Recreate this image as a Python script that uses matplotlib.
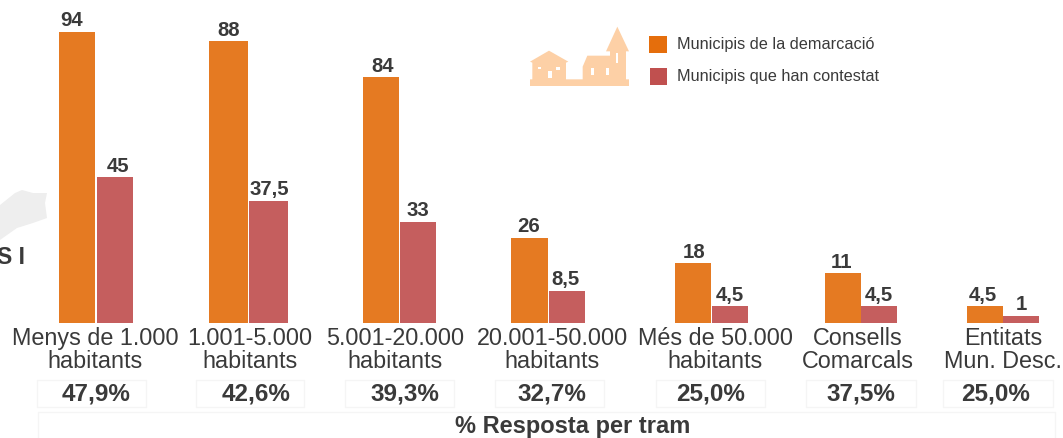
import matplotlib
matplotlib.use("Agg")
import matplotlib.pyplot as plt
from matplotlib.patches import Polygon, Rectangle

plt.rcParams['font.family'] = ['Liberation Sans', 'DejaVu Sans']

categories = ["Menys de 1.000\nhabitants", "1.001-5.000\nhabitants", "5.001-20.000\nhabitants",
              "20.001-50.000\nhabitants", "Més de 50.000\nhabitants", "Consells\nComarcals", "Entitats\nMun. Desc."]
# Labels printed in the source, and the (non proportional) bar heights as drawn
demarcacio_labels = ["94", "88", "84", "26", "18", "11", "4,5"]
contestat_labels = ["45", "37,5", "33", "8,5", "4,5", "4,5", "1"]
demarcacio_heights = [291, 282, 246, 85, 60, 50, 17]
contestat_heights = [146, 122, 101, 32, 17, 17, 7]
percentages = ["47,9%", "42,6%", "39,3%", "32,7%", "25,0%", "37,5%", "25,0%"]
legend_labels = ["Municipis de la demarcació", "Municipis que han contestat"]
footer_title = "% Resposta per tram"

ORANGE, RED, DARK = "#e57a22", "#c55e5e", "#3a3a3a"
PEACH, BORDER = "#fdd0a6", "#f5f5f5"
BASE = 323

orange_span = [(59, 95), (209, 248), (363, 399), (511, 548), (675, 711), (825, 861), (967, 1003)]
red_span = [(97, 133), (249, 288), (400, 436), (549, 585), (712, 748), (861, 897), (1003, 1039)]
orange_lx = [72, 229, 383, 529, 694, 842, 983]
red_lx = [118, 269, 418, 566, 730, 879, 1021]
cat_x = [95, 250, 395, 552, 715, 858, 1003]
boxes = [(37, 146), (196, 304), (345, 454), (495, 604), (656, 765), (806, 916), (943, 1053)]
pct_x = [96, 256, 405, 552, 711, 861, 996]

fig = plt.figure(figsize=(10.63, 4.38), dpi=100)
ax = fig.add_axes([0, 0, 1, 1])
ax.set_xlim(0, 1063)
ax.set_ylim(BASE - 438, BASE)
ax.axis("off")

def py(y):
    return BASE - y

# Background map fragment and clipped text
ax.add_patch(Polygon([(0, py(205)), (15, py(193)), (22, py(190)), (33, py(193)), (47, py(193)), (45, py(203)),
                      (47, py(218)), (33, py(223)), (17, py(228)), (0, py(240))], color="#eeeeee", lw=0))
ax.text(25, py(258), "S I", ha="right", va="center", fontsize=16.5, fontweight="bold", color=DARK)

for i in range(len(categories)):
    a, b = orange_span[i]
    ax.bar((a + b) / 2, demarcacio_heights[i], width=b - a, color=ORANGE, lw=0)
    ax.text(orange_lx[i], demarcacio_heights[i] + 11, demarcacio_labels[i], ha="center", va="center",
            fontsize=14.7, fontweight="bold", color=DARK)
    a, b = red_span[i]
    ax.bar((a + b) / 2, contestat_heights[i], width=b - a, color=RED, lw=0)
    ax.text(red_lx[i], contestat_heights[i] + 11, contestat_labels[i], ha="center", va="center",
            fontsize=14.7, fontweight="bold", color=DARK)
    ax.text(cat_x[i], py(350), categories[i], ha="center", va="center", fontsize=16.8, color=DARK,
            linespacing=1.0)
    a, b = boxes[i]
    ax.add_patch(Rectangle((a, py(407)), b - a, 27, fc="white", ec=BORDER, lw=1))
    ax.text(pct_x[i], py(394), percentages[i], ha="center", va="center", fontsize=17.5,
            fontweight="bold", color=DARK)

ax.add_patch(Rectangle((38, py(445)), 1017, 33, fc="white", ec=BORDER, lw=1))
ax.text(573, py(426), footer_title, ha="center", va="center", fontsize=17, fontweight="bold", color=DARK)

# Legend
ax.add_patch(Rectangle((649, py(53)), 18, 17, fc="#e56e0c", lw=0))
ax.add_patch(Rectangle((650, py(85)), 17, 17, fc="#c0504f", lw=0))
ax.text(677, py(44), legend_labels[0], ha="left", va="center", fontsize=11.7, color=DARK)
ax.text(677, py(77), legend_labels[1], ha="left", va="center", fontsize=11.7, color=DARK)

# Village icon
def zp(pts):
    return [(500 + x / 3, py(10 + y / 3)) for x, y in pts]

ax.add_patch(Polygon(zp([(90, 228), (90, 208), (97, 208), (97, 158), (90, 155), (147, 122), (205, 155), (198, 158),
                         (198, 208), (248, 208), (248, 170), (262, 137), (330, 137), (330, 124), (318, 124),
                         (352, 50), (387, 124), (378, 124), (378, 208), (387, 208), (387, 228)]),
                     color=PEACH, lw=0))
for (x0, y0, x1, y1) in [(114, 170, 124, 177), (168, 170, 180, 180), (145, 184, 155, 204), (274, 174, 281, 194),
                         (318, 174, 327, 194), (348, 130, 354, 158)]:
    ax.add_patch(Polygon(zp([(x0, y0), (x1, y0), (x1, y1), (x0, y1)]), color="white", lw=0))

fig.savefig("out.png", dpi=100)
